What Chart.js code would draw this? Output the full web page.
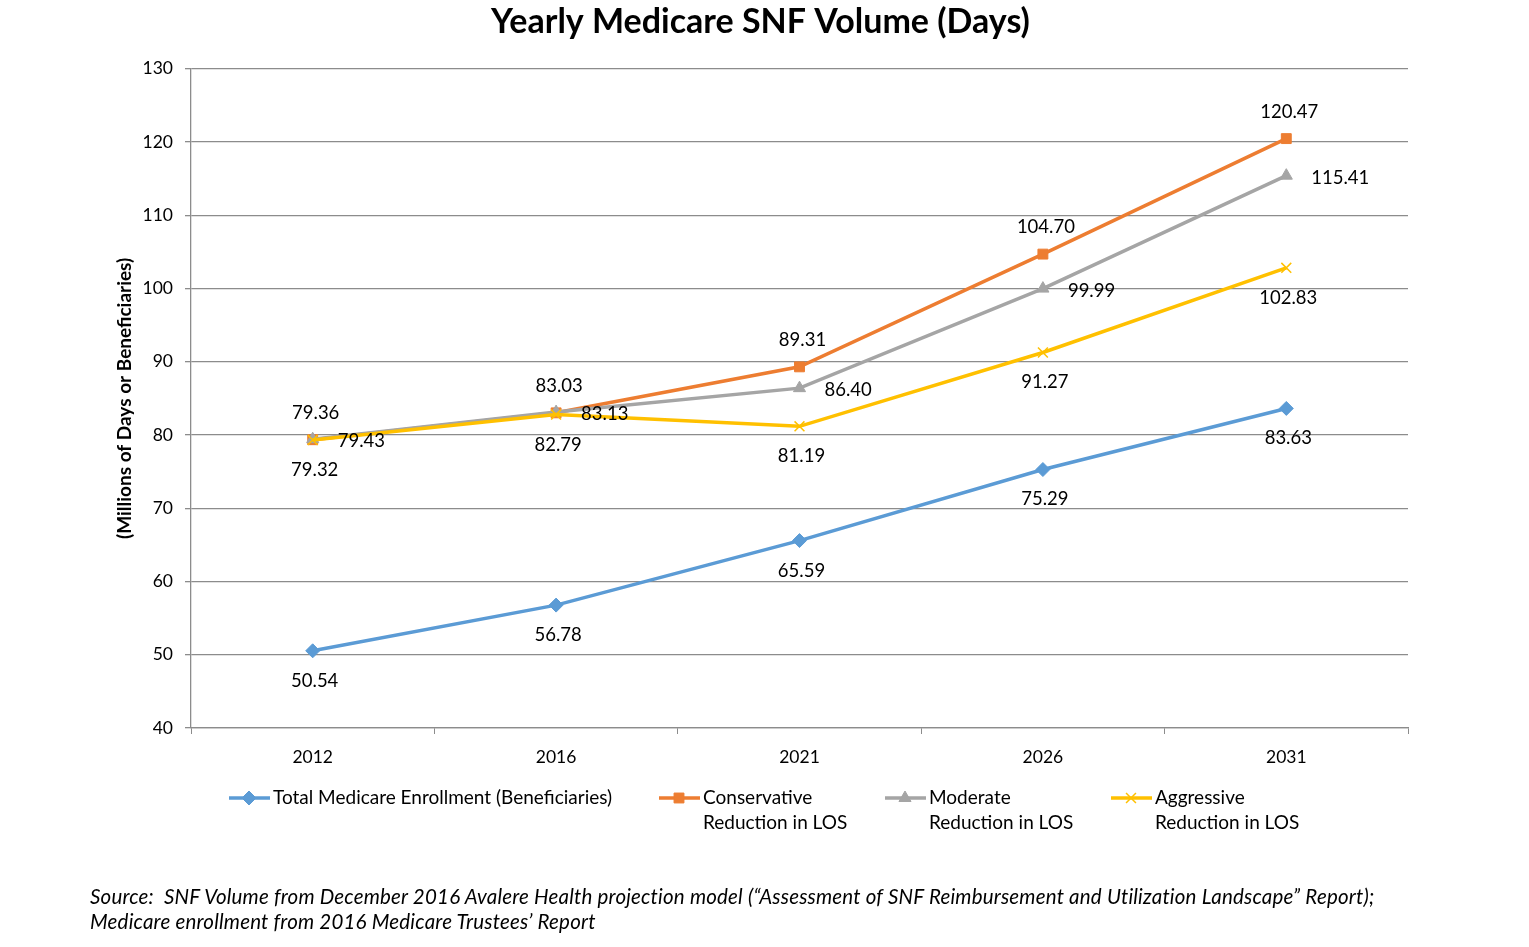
<!DOCTYPE html>
<html><head><meta charset="utf-8">
<script src="https://cdn.jsdelivr.net/npm/chart.js@4"></script>
<style>
html,body{margin:0;padding:0;background:#fff;}
#wrap{position:relative;width:1529px;height:947px;}
#c{position:absolute;left:0;top:0;}
#src{position:absolute;left:90px;top:884px;font:italic 20.5px Lato, "Open Sans", sans-serif;letter-spacing:0.2px;color:#000;line-height:25px;white-space:nowrap;}
</style></head>
<body><div id="wrap"><canvas id="c" width="1529" height="947"></canvas>
<div id="src">Source:&nbsp; SNF Volume from December 2016 Avalere Health projection model (“Assessment of SNF Reimbursement and Utilization Landscape” Report);<br>Medicare enrollment from 2016 Medicare Trustees’ Report</div></div>
<script>
const categories = ["2012","2016","2021","2026","2031"];
const totalEnrollment = [50.54, 56.78, 65.59, 75.29, 83.63];
const conservative = [79.36, 83.03, 89.31, 104.70, 120.47];
const moderate = [79.43, 83.13, 86.40, 99.99, 115.41];
const aggressive = [79.32, 82.79, 81.19, 91.27, 102.83];
const seriesNames = [["Total Medicare Enrollment (Beneficiaries)"],["Conservative","Reduction in LOS"],["Moderate","Reduction in LOS"],["Aggressive","Reduction in LOS"]];
const yTicks = {min:40, max:130, step:10};

const FONT = 'Lato, "Open Sans", sans-serif';
const colors = ["#5B9BD5","#ED7D31","#A5A5A5","#FFC000"];
const styles = ["rectRot","rect","triangle","crossRot"];
const labelPos = ["below","above","right","below"];

const labelPlugin = {
  id:'labels',
  afterDatasetsDraw(chart){
    const ctx = chart.ctx;
    ctx.save();
    ctx.font = '18.5px ' + FONT;
    ctx.fillStyle = '#000';
    chart.data.datasets.forEach((ds, i)=>{
      const meta = chart.getDatasetMeta(i);
      meta.data.forEach((pt, j)=>{
        const v = ds.data[j].toFixed(2);
        const pos = labelPos[i];
        if(pos==="above"){ctx.textAlign='center';ctx.textBaseline='middle';ctx.fillText(v, pt.x+3, pt.y-27);}
        else if(pos==="below"){ctx.textAlign='center';ctx.textBaseline='middle';ctx.fillText(v, pt.x+2, pt.y+30);}
        else {ctx.textAlign='left';ctx.textBaseline='middle';ctx.fillText(v, pt.x+25, pt.y+2);}
      });
    });
    ctx.restore();
  }
};

const legendPlugin = {
  id:'customLegend',
  afterDraw(chart){
    const ctx = chart.ctx;
    const xs = [229, 659, 885, 1111];
    const y = 798;
    ctx.save();
    ctx.font = '19px ' + FONT;
    seriesNames.forEach((name, i)=>{
      const x = xs[i];
      ctx.strokeStyle = colors[i];
      ctx.lineWidth = 3.5;
      ctx.beginPath(); ctx.moveTo(x, y); ctx.lineTo(x+41, y); ctx.stroke();
      ctx.fillStyle = colors[i]; ctx.strokeStyle = colors[i];
      ctx.lineWidth = styles[i]==="crossRot"?1.5:1;
      Chart.helpers.drawPoint(ctx, {pointStyle: styles[i], radius: 7, borderWidth: styles[i]==="crossRot"?1.5:1}, x+20, y);
      ctx.fillStyle = '#000';
      ctx.textAlign='left'; ctx.textBaseline='middle';
      name.forEach((line, k)=> ctx.fillText(line, x+44, y + k*25));
    });
    ctx.restore();
  }
};

const datasetsData = [totalEnrollment, conservative, moderate, aggressive];
new Chart(document.getElementById('c'), {
  type:'line',
  data:{
    labels: categories,
    datasets: datasetsData.map((d,i)=>({
      label: seriesNames[i].join(' '),
      data: d,
      order: 3 - i,
      borderColor: colors[i],
      backgroundColor: colors[i],
      borderWidth: 3.5,
      pointStyle: styles[i],
      pointRadius: 7,
      pointBorderWidth: styles[i]==="crossRot"?1.5:1,
      pointHoverRadius: 7,
      tension: 0
    }))
  },
  options:{
    responsive:false,
    animation:false,
    devicePixelRatio:1,
    layout:{padding:{left:113,right:121,top:0,bottom:169}},
    plugins:{
      legend:{display:false},
      tooltip:{enabled:false},
      title:{display:true, text:'Yearly Medicare SNF Volume (Days)', color:'#000',
        font:{family:FONT, size:34, weight:'bold'}, padding:{top:2,bottom:26}}
    },
    scales:{
      x:{
        offset:true,
        grid:{offset:true, drawOnChartArea:false, drawTicks:true, tickLength:6, color:'#8c8c8c'},
        border:{color:'#8c8c8c', width:1.3},
        ticks:{color:'#000', font:{family:FONT, size:17.5}, padding:13, maxRotation:0},
        afterFit(s){ s.height = 50; }
      },
      y:{
        min:yTicks.min, max:yTicks.max,
        ticks:{stepSize:yTicks.step, color:'#000', font:{family:FONT, size:17.5}, padding:12},
        grid:{color:'#8c8c8c', lineWidth:1.3, drawTicks:true, tickLength:6},
        border:{color:'#8c8c8c', width:1.3},
        title:{display:true, text:'(Millions of Days or Beneficiaries)', color:'#000', font:{family:FONT, size:19, weight:'bold'}, padding:{top:0,bottom:0}},
        afterFit(s){ s.width = 78; }
      }
    }
  },
  plugins:[labelPlugin, legendPlugin]
});
</script></body></html>
